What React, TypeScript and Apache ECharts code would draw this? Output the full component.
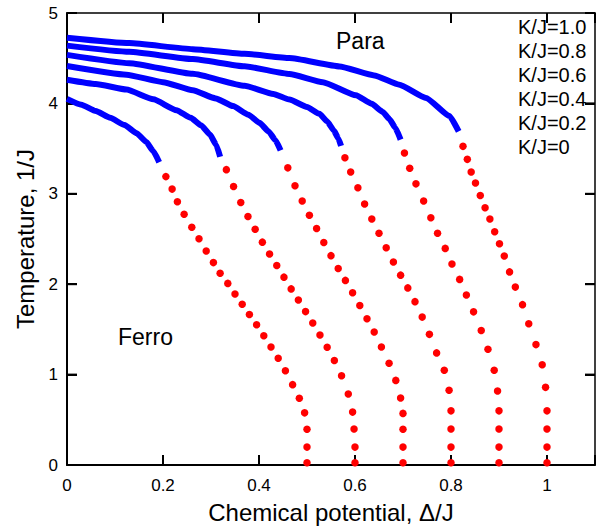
import React, { useEffect, useRef } from "react";
import * as echarts from "echarts";

// Tick/label texts
const kLabels = ["K/J=1.0", "K/J=0.8", "K/J=0.6", "K/J=0.4", "K/J=0.2", "K/J=0"];
const xTitle = "Chemical potential, \u0394/J";
const yTitle = "Temperature, 1/J";
const paraText = "Para";
const ferroText = "Ferro";
const xTickValues = [0.2, 0.4, 0.6, 0.8, 1.0];
const yTickValues = [1, 2, 3, 4];

// Second-order (para-ferro) transition lines [Δ/J, T]
const paraLine00 = [[0, 4.05], [0.03, 3.985], [0.06, 3.915], [0.09, 3.84], [0.12, 3.76], [0.145, 3.67], [0.165, 3.575], [0.18, 3.47], [0.192, 3.35]];
const paraLine02 = [[0, 4.262], [0.06, 4.215], [0.124, 4.153], [0.18, 4.045], [0.228, 3.925], [0.258, 3.84], [0.28, 3.755], [0.298, 3.655], [0.311, 3.54], [0.319, 3.41]];
const paraLine04 = [[0, 4.413], [0.124, 4.317], [0.2, 4.235], [0.262, 4.145], [0.31, 4.055], [0.346, 3.97], [0.378, 3.875], [0.401, 3.785], [0.42, 3.69], [0.434, 3.595], [0.445, 3.48]];
const paraLine06 = [[0, 4.537], [0.13, 4.445], [0.262, 4.327], [0.37, 4.195], [0.43, 4.105], [0.4635, 4.043], [0.5, 3.96], [0.526, 3.885], [0.542, 3.8], [0.556, 3.7], [0.565, 3.615], [0.571, 3.53]];
const paraLine08 = [[0, 4.639], [0.13, 4.57], [0.262, 4.49], [0.37, 4.41], [0.4635, 4.325], [0.533, 4.235], [0.602, 4.09], [0.635, 3.995], [0.658, 3.905], [0.672, 3.825], [0.684, 3.73], [0.695, 3.6]];
const paraLine10 = [[0, 4.727], [0.13, 4.667], [0.262, 4.6], [0.37, 4.548], [0.4635, 4.501], [0.568, 4.409], [0.64, 4.31], [0.6925, 4.207], [0.748, 4.061], [0.797, 3.86], [0.816, 3.69]];

// First-order transition points [Δ/J, T]
const ferroDots00 = [[0.206, 3.19], [0.219, 3.052], [0.23, 2.912], [0.244, 2.773], [0.26, 2.63], [0.275, 2.503], [0.29, 2.367], [0.305, 2.239], [0.319, 2.122], [0.335, 2.009], [0.35, 1.891], [0.365, 1.778], [0.38, 1.664], [0.395, 1.551], [0.41, 1.43], [0.425, 1.306], [0.44, 1.181], [0.455, 1.043], [0.47, 0.889], [0.484, 0.739], [0.495, 0.577], [0.5, 0.395], [0.5, 0.198], [0.5, 0.025]];
const ferroDots02 = [[0.332, 3.267], [0.347, 3.08], [0.362, 2.904], [0.377, 2.748], [0.392, 2.608], [0.407, 2.465], [0.422, 2.334], [0.437, 2.206], [0.452, 2.078], [0.467, 1.948], [0.482, 1.825], [0.497, 1.697], [0.512, 1.57], [0.527, 1.438], [0.542, 1.302], [0.557, 1.156], [0.572, 0.988], [0.586, 0.786], [0.595, 0.585], [0.598, 0.398], [0.6, 0.198], [0.6, 0.025]];
const ferroDots04 = [[0.46, 3.287], [0.475, 3.089], [0.49, 2.92], [0.505, 2.762], [0.52, 2.616], [0.535, 2.462], [0.55, 2.316], [0.565, 2.174], [0.58, 2.042], [0.595, 1.905], [0.61, 1.765], [0.625, 1.617], [0.64, 1.471], [0.655, 1.306], [0.671, 1.126], [0.685, 0.936], [0.695, 0.741], [0.7, 0.571], [0.7, 0.395], [0.7, 0.198], [0.7, 0.025]];
const ferroDots06 = [[0.579, 3.398], [0.591, 3.241], [0.606, 3.066], [0.62, 2.887], [0.635, 2.722], [0.65, 2.564], [0.665, 2.404], [0.68, 2.246], [0.695, 2.1], [0.71, 1.959], [0.725, 1.807], [0.74, 1.636], [0.755, 1.445], [0.77, 1.24], [0.786, 1.049], [0.796, 0.826], [0.8, 0.599], [0.8, 0.398], [0.8, 0.198], [0.8, 0.025]];
const ferroDots08 = [[0.703, 3.452], [0.714, 3.282], [0.727, 3.11], [0.743, 2.92], [0.758, 2.736], [0.772, 2.564], [0.788, 2.396], [0.802, 2.224], [0.818, 2.053], [0.832, 1.88], [0.847, 1.694], [0.863, 1.488], [0.877, 1.28], [0.89, 1.049], [0.897, 0.819], [0.9, 0.599], [0.9, 0.398], [0.9, 0.198], [0.9, 0.025]];
const ferroDots10 = [[0.825, 3.525], [0.834, 3.381], [0.842, 3.241], [0.851, 3.119], [0.861, 2.981], [0.871, 2.846], [0.881, 2.722], [0.891, 2.58], [0.901, 2.448], [0.911, 2.312], [0.922, 2.136], [0.934, 1.968], [0.949, 1.774], [0.962, 1.562], [0.977, 1.332], [0.99, 1.109], [0.997, 0.859], [1.0, 0.599], [1.0, 0.398], [1.0, 0.198], [1.0, 0.025]];

const paraLines = [paraLine00, paraLine02, paraLine04, paraLine06, paraLine08, paraLine10];
const ferroDots = [ferroDots00, ferroDots02, ferroDots04, ferroDots06, ferroDots08, ferroDots10];

const FONT = "Liberation Sans, Arial, sans-serif";
const X_MIN = 0, X_MAX = 1.1, Y_MIN = 0, Y_MAX = 5;
const TICK_LEN = 10;
const TICK_W = 2;

export default function App() {
  const ref = useRef<HTMLDivElement>(null);
  useEffect(() => {
    if (!ref.current) return;
    const chart = echarts.init(ref.current, null, { renderer: "svg" });
    const labelStyle = { color: "#000", fontSize: 17, fontFamily: FONT };
    const axisTick = () => ({ show: true, inside: true, length: TICK_LEN, lineStyle: { color: "#000", width: TICK_W } });
    const series: any[] = [];
    paraLines.forEach((d, i) => {
      series.push({
        type: "line",
        name: "para" + i,
        data: d,
        showSymbol: false,
        symbol: "none",
        smooth: 0.15,
        smoothMonotone: "x",
        lineStyle: { color: "#0000ff", width: 6, cap: "butt", join: "round" },
      });
    });
    ferroDots.forEach((d, i) => {
      series.push({
        type: "scatter",
        name: "ferro" + i,
        data: d,
        symbol: "circle",
        symbolSize: 7.5,
        itemStyle: { color: "#ff0000", opacity: 1 },
      });
    });
    series.push({
      type: "custom",
      name: "xticks",
      data: xTickValues.map((v) => [v, Y_MIN]),
      renderItem: (_p: any, api: any) => {
        const v = api.value(0);
        const a = api.coord([v, Y_MIN]);
        const b = api.coord([v, Y_MAX]);
        return {
          type: "group",
          children: [
            { type: "line", shape: { x1: a[0], y1: a[1], x2: a[0], y2: a[1] - TICK_LEN }, style: { stroke: "#000", lineWidth: TICK_W } },
            { type: "line", shape: { x1: b[0], y1: b[1], x2: b[0], y2: b[1] + TICK_LEN }, style: { stroke: "#000", lineWidth: TICK_W } },
          ],
        };
      },
    });
    series.push({
      type: "custom",
      name: "yticks",
      data: yTickValues.map((v) => [X_MIN, v]),
      renderItem: (_p: any, api: any) => {
        const v = api.value(1);
        const a = api.coord([X_MIN, v]);
        const b = api.coord([X_MAX, v]);
        return {
          type: "group",
          children: [
            { type: "line", shape: { x1: a[0], y1: a[1], x2: a[0] + TICK_LEN, y2: a[1] }, style: { stroke: "#000", lineWidth: TICK_W } },
            { type: "line", shape: { x1: b[0], y1: b[1], x2: b[0] - TICK_LEN, y2: b[1] }, style: { stroke: "#000", lineWidth: TICK_W } },
          ],
        };
      },
    });
    const graphics: any[] = kLabels.map((t, i) => ({
      type: "text",
      left: 518,
      top: 27 + i * 24 - 10,
      style: { text: t, fill: "#000", font: `20px ${FONT}` },
    }));
    graphics.push({
      type: "text",
      left: 336,
      top: 29,
      style: { text: paraText, fill: "#000", font: `23px ${FONT}` },
    });
    graphics.push({
      type: "text",
      left: 118,
      top: 325.5,
      style: { text: ferroText, fill: "#000", font: `23px ${FONT}` },
    });
    chart.setOption({
      animation: false,
      backgroundColor: "#fff",
      grid: { left: 67, right: 2, top: 13, bottom: 61 },
      xAxis: [
        {
          type: "value",
          min: X_MIN,
          max: X_MAX,
          interval: 0.2,
          position: "bottom",
          splitLine: { show: false },
          axisLine: { show: true, onZero: false, lineStyle: { color: "#000", width: 2 } },
          axisTick: axisTick(),
          axisLabel: {
            ...labelStyle,
            margin: 12,
            formatter: (v: number) => (v > 1.05 ? "" : String(+v.toFixed(1))),
          },
          name: xTitle,
          nameLocation: "middle",
          nameGap: 35,
          nameTextStyle: { color: "#000", fontSize: 24, fontFamily: FONT },
        },
        {
          type: "value",
          min: X_MIN,
          max: X_MAX,
          interval: 0.2,
          position: "top",
          splitLine: { show: false },
          axisLine: { show: true, onZero: false, lineStyle: { color: "#000", width: 1.5 } },
          axisTick: axisTick(),
          axisLabel: { show: false },
        },
      ],
      yAxis: [
        {
          type: "value",
          min: Y_MIN,
          max: Y_MAX,
          interval: 1,
          position: "left",
          splitLine: { show: false },
          axisLine: { show: true, onZero: false, lineStyle: { color: "#000", width: 2 } },
          axisTick: axisTick(),
          axisLabel: { ...labelStyle, margin: 9 },
          name: yTitle,
          nameLocation: "middle",
          nameGap: 30,
          nameTextStyle: { color: "#000", fontSize: 24, fontFamily: FONT },
        },
        {
          type: "value",
          min: Y_MIN,
          max: Y_MAX,
          interval: 1,
          position: "right",
          splitLine: { show: false },
          axisLine: { show: true, onZero: false, lineStyle: { color: "#000", width: 1.5 } },
          axisTick: axisTick(),
          axisLabel: { show: false },
        },
      ],
      graphic: graphics,
      series,
    });
    return () => chart.dispose();
  }, []);
  return (
    <div
      ref={ref}
      style={{ position: "fixed", left: 0, top: 0, width: 598, height: 529, background: "#fff" }}
    />
  );
}
